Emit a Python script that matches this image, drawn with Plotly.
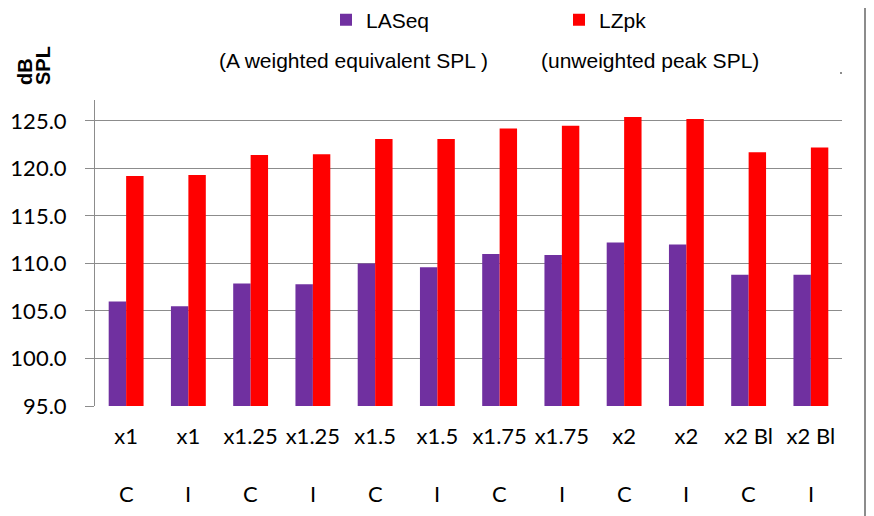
import plotly.graph_objects as go

speed = ["x1", "x1", "x1.25", "x1.25", "x1.5", "x1.5", "x1.75", "x1.75", "x2", "x2", "x2 Bl", "x2 Bl"]
mode = ["C", "I", "C", "I", "C", "I", "C", "I", "C", "I", "C", "I"]
laseq = [106.0, 105.5, 107.9, 107.8, 110.0, 109.6, 111.0, 110.9, 112.2, 112.0, 108.8, 108.8]
lzpk = [119.2, 119.3, 121.4, 121.5, 123.1, 123.1, 124.2, 124.5, 125.4, 125.2, 121.7, 122.2]
y_ticks = [95, 100, 105, 110, 115, 120, 125]

x = list(range(len(speed)))
sans = "Liberation Sans, Arial, sans-serif"
tickfont = "Lato, Carlito, Calibri, sans-serif"

W, H = 874, 516
L, T = 87, 92          # page has an 8px offset
pw, ph = 747, 306
R, B = W - L - pw, H - T - ph


def px_x(p):  # p = pixel on the final picture
    return (p - 95) / pw


def px_y(p):
    return (406 - p) / ph


fig = go.Figure()
fig.add_trace(go.Bar(x=x, y=laseq, name="LASeq", marker=dict(color="#7030A0", line=dict(width=0))))
fig.add_trace(go.Bar(x=x, y=lzpk, name="LZpk", marker=dict(color="#FF0000", line=dict(width=0))))

fig.update_layout(
    width=W, height=H,
    margin=dict(l=L, r=R, t=T, b=B, autoexpand=False),
    plot_bgcolor="white", paper_bgcolor="white",
    barmode="group", bargap=0.44, bargroupgap=0,
    showlegend=True,
    legend=dict(orientation="h", x=px_x(326), xanchor="left", y=px_y(20), yanchor="middle",
                font=dict(family=sans, size=21, color="#000"),
                entrywidth=188, entrywidthmode="pixels",
                bgcolor="rgba(0,0,0,0)"),
    xaxis=dict(tickmode="array", tickvals=x, ticktext=speed, range=[-0.5, len(x) - 0.5],
               showgrid=False, showline=False, ticks="", zeroline=False,
               tickangle=0, ticklabelstandoff=15,
               tickfont=dict(family=tickfont, size=22, color="#000")),
    yaxis=dict(range=[95, 127.2], tickvals=y_ticks, ticktext=[f"{v:.1f}" for v in y_ticks],
               showgrid=True, gridcolor="#8c8c8c", gridwidth=1,
               showline=True, linecolor="#8c8c8c", linewidth=1,
               ticks="outside", ticklen=9, tickcolor="#8c8c8c", zeroline=False,
               ticklabelstandoff=14,
               tickfont=dict(family=tickfont, size=22, color="#000")),
)

for xi, m in zip(x, mode):
    fig.add_annotation(x=xi, xref="x", y=px_y(494), yref="paper",
                       xanchor="center", yanchor="middle",
                       text=m, showarrow=False,
                       font=dict(family=tickfont, size=22, color="#000"))

fig.add_annotation(x=px_x(353), xref="paper", y=px_y(60), yref="paper",
                   xanchor="center", yanchor="middle",
                   text="(A weighted equivalent SPL )", showarrow=False,
                   font=dict(family=sans, size=21, color="#000"))
fig.add_annotation(x=px_x(650), xref="paper", y=px_y(60), yref="paper",
                   xanchor="center", yanchor="middle",
                   text="(unweighted peak SPL)", showarrow=False,
                   font=dict(family=sans, size=21, color="#000"))
for txt, cx, cy in (("dB", 25, 72), ("SPL", 43, 65)):
    fig.add_annotation(x=px_x(cx), xref="paper", y=px_y(cy), yref="paper",
                       xanchor="center", yanchor="middle",
                       text=f"<b>{txt}</b>", textangle=-90, showarrow=False,
                       font=dict(family=sans, size=20, color="#000"))

fig.add_shape(type="line", xref="paper", yref="paper", x0=px_x(865), x1=px_x(865),
              y0=px_y(516), y1=px_y(0), line=dict(color="#8c8c8c", width=2))
fig.add_shape(type="rect", xref="paper", yref="paper", x0=px_x(840), x1=px_x(842),
              y0=px_y(74), y1=px_y(72), line=dict(width=0), fillcolor="#8c8c8c")

fig.write_html("out.html")
